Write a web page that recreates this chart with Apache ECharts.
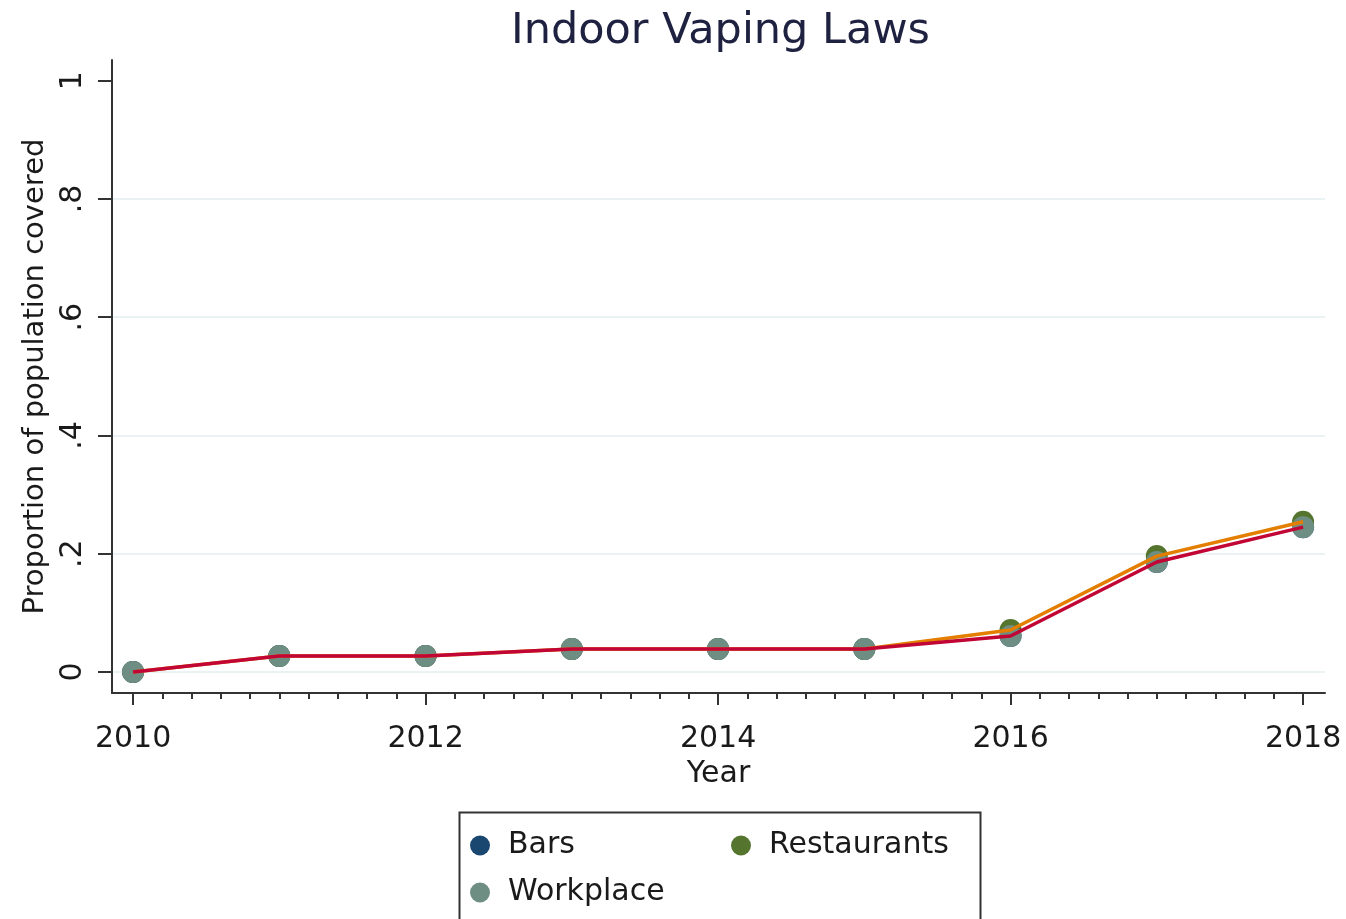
<!DOCTYPE html>
<html><head><meta charset="utf-8">
<script src="https://cdn.jsdelivr.net/npm/echarts@6/dist/echarts.min.js"></script>
<style>html,body{margin:0;padding:0;background:#fff}#c{width:1346px;height:919px}</style>
</head><body><div id="c"></div><script>
const years = [2010, 2011, 2012, 2013, 2014, 2015, 2016, 2017, 2018];
const bars = [0, 0.027, 0.027, 0.039, 0.039, 0.039, 0.061, 0.186, 0.245];
const restaurants = [0, 0.027, 0.027, 0.039, 0.039, 0.039, 0.071, 0.196, 0.254];
const workplace = [0, 0.027, 0.027, 0.039, 0.039, 0.039, 0.061, 0.186, 0.245];
const xTickValues = [2010, 2012, 2014, 2016, 2018];
const yTickValues = [0, 0.2, 0.4, 0.6, 0.8, 1];
const yTickLabels = ['0', '.2', '.4', '.6', '.8', '1'];
const gridValues = [0, 0.2, 0.4, 0.6, 0.8];

const FONT = 'DejaVu Sans';
const pairs = arr => years.map((y, i) => [y, arr[i]]);
const minorTicks = [];
for (let i = 0; i <= (years[years.length - 1] - years[0]) * 5; i++) minorTicks.push(years[0] + i * 0.2);

const chart = echarts.init(document.getElementById('c'));
chart.setOption({
  animation: false,
  backgroundColor: '#ffffff',
  title: {
    text: 'Indoor Vaping Laws', left: 506, top: 5,
    textStyle: { fontFamily: FONT, fontSize: 43, fontWeight: 'normal', color: '#1e2140' }
  },
  grid: { left: 112, right: 21, top: 60, bottom: 226 },
  xAxis: [{
    type: 'value', min: 2009.856, max: 2018.15,
    name: 'Year', nameLocation: 'middle', nameGap: 62,
    nameTextStyle: { fontFamily: FONT, fontSize: 30, color: '#1a1a1a' },
    axisLine: { show: true, onZero: false, lineStyle: { color: '#333', width: 2 } },
    axisTick: { show: true, customValues: xTickValues, length: 12, lineStyle: { color: '#333', width: 2 } },
    axisLabel: { customValues: xTickValues, fontFamily: FONT, fontSize: 30, color: '#1a1a1a', margin: 31, formatter: v => String(v) },
    splitLine: { show: false }
  }, {
    type: 'value', min: 2009.856, max: 2018.15, position: 'bottom',
    axisLine: { show: false, onZero: false },
    axisTick: { show: true, customValues: minorTicks, length: 6, lineStyle: { color: '#333', width: 2 } },
    axisLabel: { show: false },
    splitLine: { show: false }
  }],
  yAxis: {
    type: 'value', min: -0.0355, max: 1.035,
    name: 'Proportion of population covered', nameLocation: 'middle', nameGap: 62, nameRotate: 90,
    nameTextStyle: { fontFamily: FONT, fontSize: 29, color: '#1a1a1a' },
    axisLine: { show: true, onZero: false, lineStyle: { color: '#333', width: 2 } },
    axisTick: { show: true, customValues: yTickValues, length: 14, lineStyle: { color: '#333', width: 2 } },
    axisLabel: {
      customValues: yTickValues, rotate: 90, margin: 24,
      fontFamily: FONT, fontSize: 30, color: '#1a1a1a',
      formatter: v => { const i = yTickValues.findIndex(t => Math.abs(t - v) < 1e-9); return i >= 0 ? yTickLabels[i] : ''; }
    },
    splitLine: { show: false }
  },
  legend: {
    data: ['Bars', 'Restaurants', 'Workplace'],
    left: 470, top: 827, width: 520, padding: 0,
    icon: 'circle', itemWidth: 20, itemHeight: 20, itemGap: 10,
    textStyle: { fontFamily: FONT, fontSize: 30, color: '#1a1a1a', width: 213, lineHeight: 37, padding: [0, 0, 0, 13] }
  },
  graphic: [{
    type: 'rect', left: 457, top: 810,
    shape: { width: 521, height: 130 },
    style: { fill: 'none', stroke: '#333', lineWidth: 2 }
  }],
  series: [
    {
      name: 'Bars', type: 'scatter', data: pairs(bars), symbol: 'circle', symbolSize: 22,
      itemStyle: { color: '#1a476f', opacity: 1 }, z: 2,
      markLine: {
        silent: true, symbol: ['none', 'none'], label: { show: false },
        lineStyle: { color: '#eaf2f3', width: 2, type: 'solid' },
        data: gridValues.map(v => ({ yAxis: v })), z: 0
      }
    },
    { name: 'Restaurants', type: 'scatter', data: pairs(restaurants), symbol: 'circle', symbolSize: 22, itemStyle: { color: '#55752f', opacity: 1 }, z: 2 },
    { name: 'Workplace', type: 'scatter', data: pairs(workplace), symbol: 'circle', symbolSize: 22, itemStyle: { color: '#6e8e84', opacity: 1 }, z: 2 },
    { name: 'RestaurantsLine', type: 'line', data: pairs(restaurants), showSymbol: false, symbol: 'none', lineStyle: { color: '#e37e00', width: 3.5 }, z: 3 },
    { name: 'WorkplaceLine', type: 'line', data: pairs(workplace), showSymbol: false, symbol: 'none', lineStyle: { color: '#c10534', width: 3.5 }, z: 4 }
  ]
});
</script></body></html>
